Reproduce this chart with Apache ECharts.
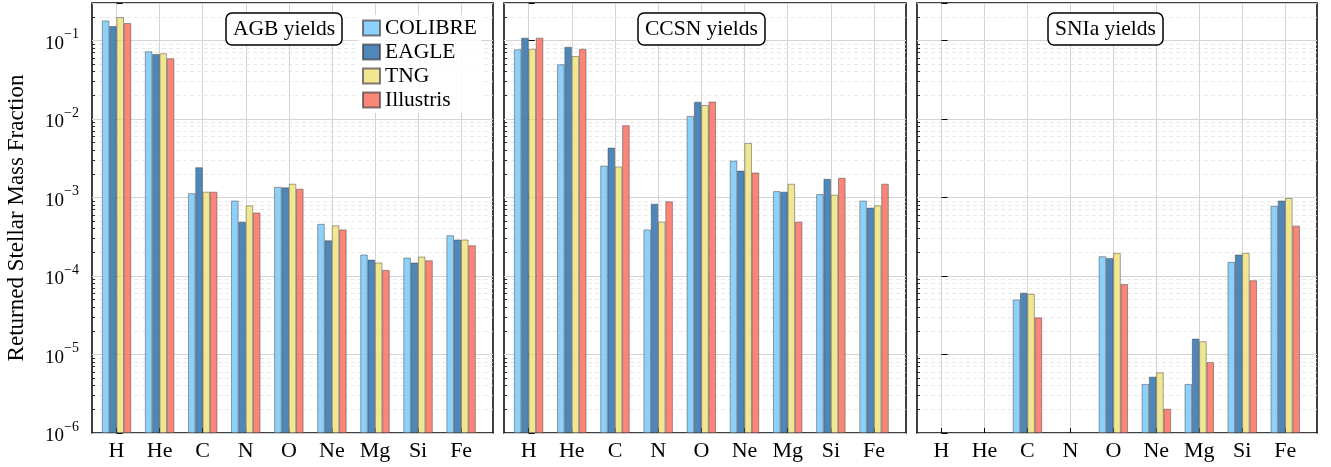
<!DOCTYPE html>
<html>
<head>
<meta charset="utf-8">
<script src="https://cdn.jsdelivr.net/npm/echarts@6/dist/echarts.min.js"></script>
<style>
  html, body { margin: 0; padding: 0; background: #fff; }
  #main { width: 1331px; height: 467px; }
</style>
</head>
<body>
<div id="main"></div>
<script>
// 元素和模型
var elements = ['H', 'He', 'C', 'N', 'O', 'Ne', 'Mg', 'Si', 'Fe'];
var models = ['COLIBRE', 'EAGLE', 'TNG', 'Illustris'];
var panelTitles = ['AGB yields', 'CCSN yields', 'SNIa yields'];

// AGB
var agbColibre   = [0.179, 0.0725, 1.13e-3, 9.1e-4, 1.36e-3, 4.6e-4, 1.87e-4, 1.71e-4, 3.29e-4];
var agbEagle     = [0.152, 0.067, 2.42e-3, 4.9e-4, 1.34e-3, 2.84e-4, 1.61e-4, 1.48e-4, 2.9e-4];
var agbTng       = [0.198, 0.0684, 1.18e-3, 7.9e-4, 1.49e-3, 4.4e-4, 1.48e-4, 1.76e-4, 2.9e-4];
var agbIllustris = [0.166, 0.059, 1.18e-3, 6.4e-4, 1.29e-3, 3.9e-4, 1.19e-4, 1.58e-4, 2.45e-4];
// CCSN
var ccsnColibre   = [0.0769, 0.0496, 2.54e-3, 3.9e-4, 1.09e-2, 2.94e-3, 1.2e-3, 1.1e-3, 9.1e-4];
var ccsnEagle     = [0.108, 0.083, 4.3e-3, 8.3e-4, 1.65e-2, 2.19e-3, 1.18e-3, 1.72e-3, 7.4e-4];
var ccsnTng       = [0.078, 0.063, 2.47e-3, 4.9e-4, 1.5e-2, 4.93e-3, 1.49e-3, 1.08e-3, 7.9e-4];
var ccsnIllustris = [0.108, 0.078, 8.3e-3, 8.9e-4, 1.66e-2, 2.07e-3, 4.9e-4, 1.77e-3, 1.49e-3];
// SNIa (H, He, N 没有)
var sniaColibre   = [null, null, 5.0e-5, null, 1.78e-4, 4.2e-6, 4.2e-6, 1.51e-4, 7.8e-4];
var sniaEagle     = [null, null, 6.1e-5, null, 1.69e-4, 5.2e-6, 1.59e-5, 1.87e-4, 9.1e-4];
var sniaTng       = [null, null, 5.9e-5, null, 1.96e-4, 5.9e-6, 1.47e-5, 1.96e-4, 9.8e-4];
var sniaIllustris = [null, null, 2.96e-5, null, 7.85e-5, 2.03e-6, 7.96e-6, 8.8e-5, 4.36e-4];

var panels = [
    [agbColibre, agbEagle, agbTng, agbIllustris],
    [ccsnColibre, ccsnEagle, ccsnTng, ccsnIllustris],
    [sniaColibre, sniaEagle, sniaTng, sniaIllustris]
];

var colors = ['#87CEFA', '#4682B4', '#F0E68C', '#FA8072'];
var font = "'Liberation Serif','DejaVu Serif',serif";

var gridLeft = [92, 504, 917];
var gridWidth = [401, 402, 400];
var titleLeft = [226, 638, 1048];
var xMin = -0.57, xMax = 8.74;
var yMin = 1e-6, yMax = 0.3;

// 次刻度 2..9 x 10^k (对数位置)
var minorLogs = [];
for (var k = -6; k <= -1; k++) {
    for (var m = 2; m <= 9; m++) {
        var v = m * Math.pow(10, k);
        if (v <= 0.2000001) minorLogs.push(Math.log10(v));
    }
}

var grids = [], xAxes = [], yAxes = [], series = [], titles = [];

panels.forEach(function (panel, g) {
    grids.push({
        left: gridLeft[g], width: gridWidth[g], top: 3, bottom: 34,
        show: true, borderColor: '#000', borderWidth: 1.5, backgroundColor: 'transparent'
    });
    xAxes.push({
        gridIndex: g, type: 'value', min: xMin, max: xMax,
        axisLine: { show: false },
        axisTick: { show: true, inside: true, length: 5, customValues: [0, 1, 2, 3, 4, 5, 6, 7, 8],
                    lineStyle: { color: '#000', width: 1 } },
        axisLabel: { show: true, customValues: [0, 1, 2, 3, 4, 5, 6, 7, 8], margin: 7,
                     fontFamily: font, fontSize: 22, color: '#000',
                     formatter: function (v) { return elements[Math.round(v)] || ''; } },
        splitLine: { show: true, lineStyle: { color: '#d4d4d4', width: 1 } }
    });
    // 主轴 (对数)
    yAxes.push({
        gridIndex: g, type: 'log', logBase: 10, min: yMin, max: yMax, startValue: yMin,
        name: g === 0 ? 'Returned Stellar Mass Fraction' : '',
        nameLocation: 'middle', nameGap: 64,
        nameTextStyle: { fontFamily: font, fontSize: 23, color: '#000' },
        axisLine: { show: false },
        axisTick: { show: true, inside: true, length: 6, lineStyle: { color: '#000', width: 1 } },
        axisLabel: {
            show: g === 0, margin: 13, color: '#000',
            formatter: function (v) {
                var e = Math.round(Math.log10(v));
                if (Math.abs(Math.log10(v) - e) > 1e-6) return '';
                return '{b|10}{s|\u2212' + (-e) + '}';
            },
            rich: {
                b: { fontFamily: font, fontSize: 19, lineHeight: 26, verticalAlign: 'bottom', color: '#000' },
                s: { fontFamily: font, fontSize: 14, lineHeight: 14, verticalAlign: 'top', color: '#000' }
            }
        },
        splitLine: { show: true, lineStyle: { color: '#d4d4d4', width: 1 } },
        z: 1
    });
    // 次刻度和次网格线
    yAxes.push({
        gridIndex: g, type: 'value', min: -6, max: Math.log10(yMax), position: 'left',
        axisLine: { show: false },
        axisTick: { show: true, inside: true, length: 3, customValues: minorLogs,
                    lineStyle: { color: '#000', width: 0.8 } },
        axisLabel: { show: false },
        splitLine: { show: true, lineStyle: { color: '#e3e3e3', width: 0.8, type: [4, 3] } },
        z: 0
    });
    titles.push({
        text: panelTitles[g], left: titleLeft[g], top: 13,
        padding: [5, 7, 5, 7], borderColor: '#000', borderWidth: 1.5, borderRadius: 6,
        backgroundColor: '#fff',
        textStyle: { fontFamily: font, fontSize: 21.5, fontWeight: 'normal', color: '#000' }
    });

    panel.forEach(function (vals, s) {
        var data = [];
        vals.forEach(function (v, i) { if (v != null) data.push([i, v]); });
        series.push({
            name: models[s], type: 'bar', xAxisIndex: g, yAxisIndex: 2 * g, z: 2,
            barWidth: 7.3, barGap: '0%',
            itemStyle: { color: colors[s], opacity: 0.95, borderColor: 'rgba(60,60,60,0.7)', borderWidth: 0.7 },
            data: data
        });
    });
});

var myChart = echarts.init(document.getElementById('main'));
myChart.setOption({
    animation: false,
    title: titles,
    legend: {
        data: models, orient: 'vertical', left: 358, top: 15,
        padding: [2, 4, 2, 4], backgroundColor: 'rgba(255,255,255,0.85)',
        itemWidth: 17, itemHeight: 15, itemGap: 2, icon: 'rect',
        textStyle: { fontFamily: font, fontSize: 21.5, color: '#000' }
    },
    grid: grids,
    xAxis: xAxes,
    yAxis: yAxes,
    series: series
});
</script>
</body>
</html>
